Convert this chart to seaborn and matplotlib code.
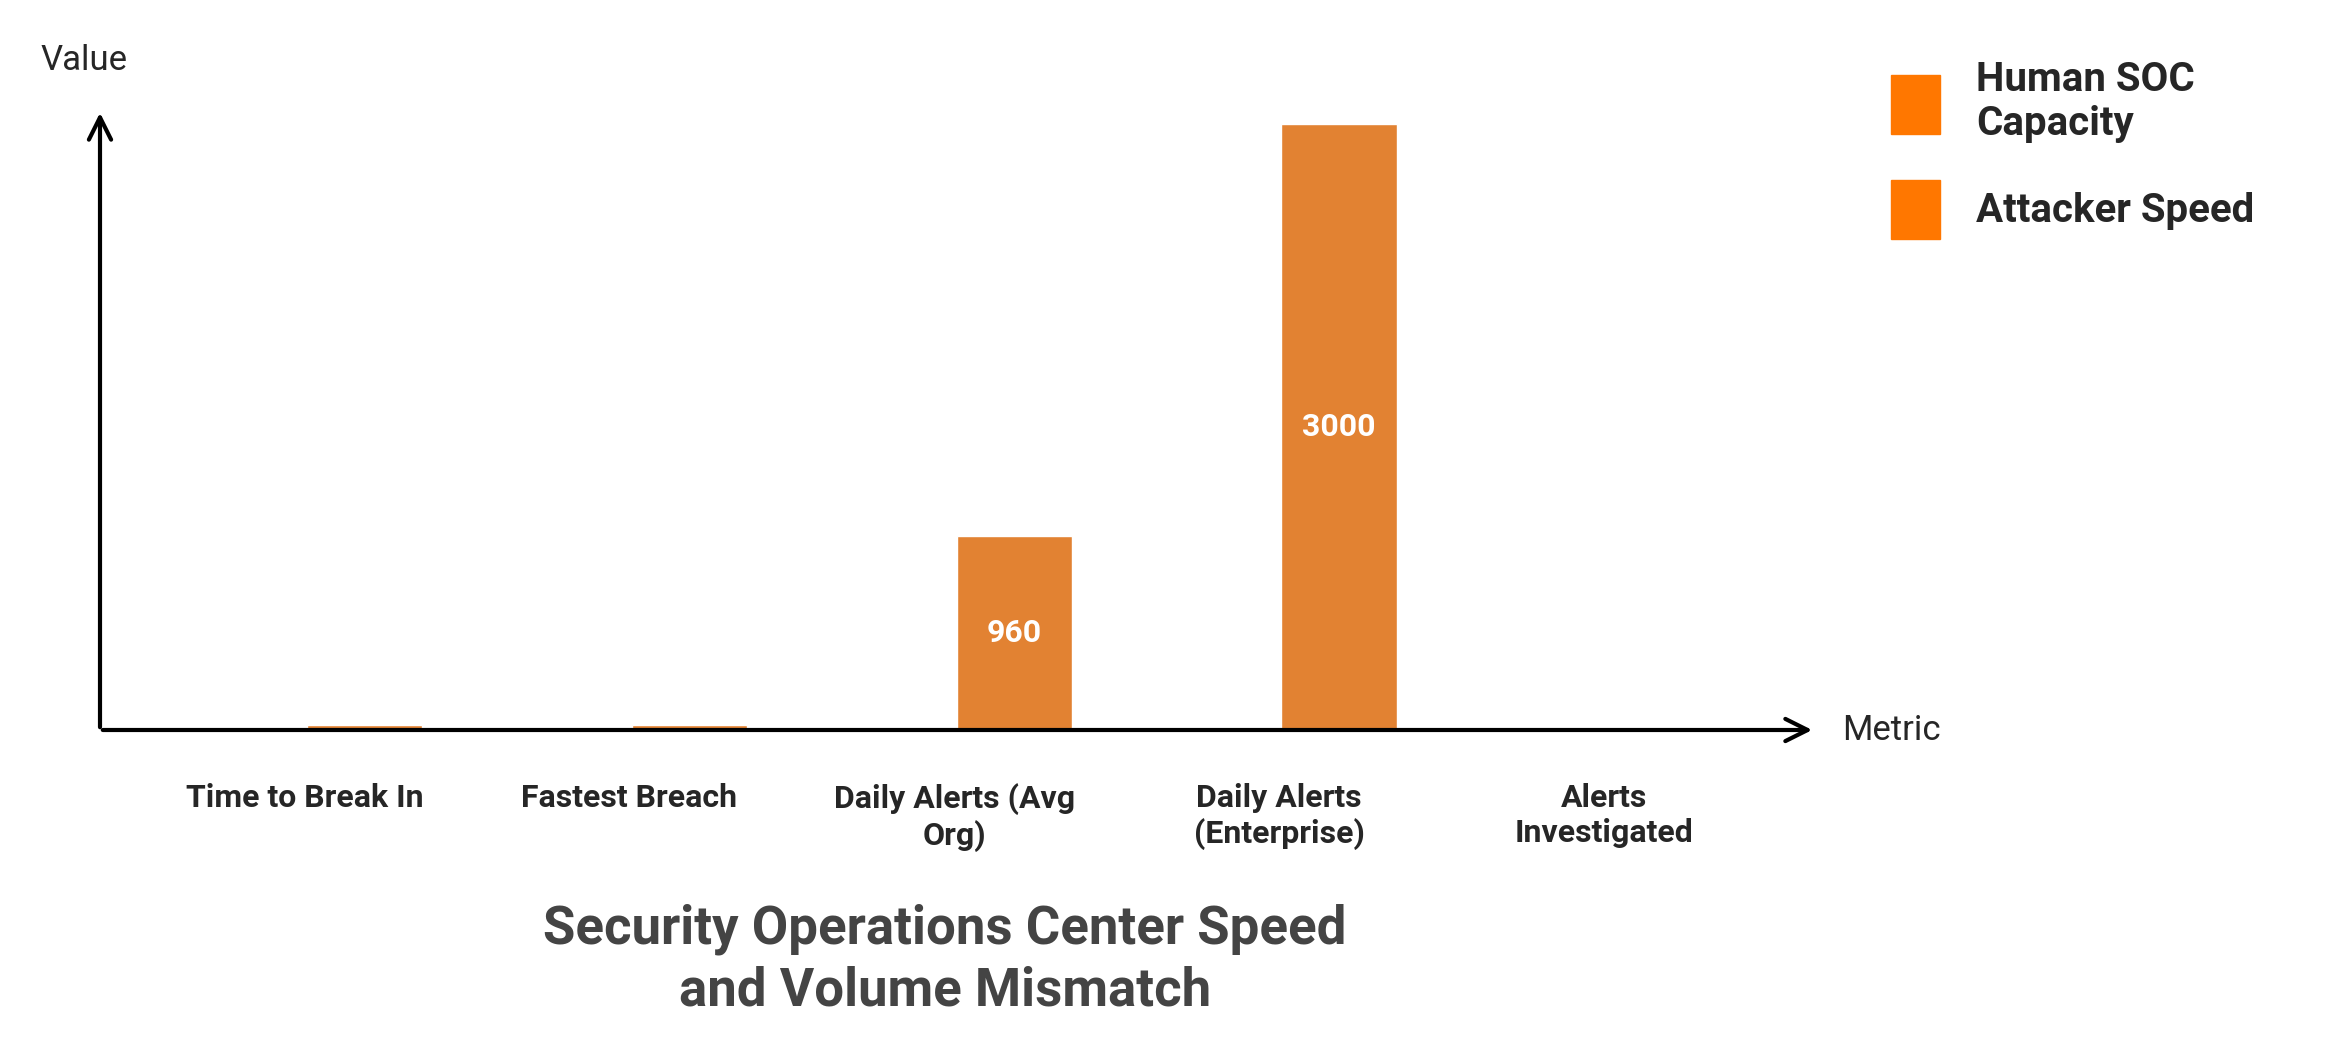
import matplotlib
matplotlib.use("Agg")
import matplotlib.pyplot as plt
import seaborn as sns
import pandas as pd
from matplotlib.patches import Patch

categories = ["Time to Break In", "Fastest Breach", "Daily Alerts (Avg\nOrg)",
              "Daily Alerts\n(Enterprise)", "Alerts\nInvestigated"]
human_soc = [10, 10, 10, 10, 10]
attacker = [24, 27, 960, 3000, 12]
series = ["Human SOC Capacity", "Attacker Speed"]

sns.set_theme(style="white")
plt.rcParams['font.family'] = ['Roboto', 'DejaVu Sans']

df = pd.DataFrame({
    "Metric": categories * 2,
    "Value": human_soc + attacker,
    "Series": [series[0]] * 5 + [series[1]] * 5,
})

fig = plt.figure(figsize=(23.52, 10.6), dpi=100)
ax = fig.add_axes([100/2352, 1-730/1060, 1715/2352, 620/1060])
sns.barplot(data=df, x="Metric", y="Value", hue="Series", ax=ax,
            palette=["#FCB77F", "#FF7F15"], width=0.74, gap=0.04, legend=False)
ax.set_xlim(-0.63, 4.65)
ax.set_ylim(0, 3070)
for s in ax.spines.values():
    s.set_visible(False)
ax.set_yticks([])
ax.tick_params(axis="x", length=0, pad=38)
for t in ax.get_xticklabels():
    t.set_fontsize(23); t.set_fontweight("bold"); t.set_va("top")
ax.set_xlabel(""); ax.set_ylabel("")

# value labels on large bars
cont = ax.containers[1]
for rect, v in zip(cont, attacker):
    if v > 500:
        ax.text(rect.get_x() + rect.get_width()/2, v/2, f"{v}", ha="center", va="center",
                color="white", fontsize=23, fontweight="bold")

arrow = dict(arrowstyle="->", lw=3, color="black", mutation_scale=40)
ax.annotate("", xy=(0, 1.0), xytext=(0, 0), xycoords="axes fraction", arrowprops=arrow, annotation_clip=False)
ax.annotate("", xy=(1.0, 0), xytext=(0, 0), xycoords="axes fraction", arrowprops=arrow, annotation_clip=False)

fig.text(40/2352, 1-60/1060, "Value", fontsize=25, va="center", ha="left")
fig.text(1842/2352, 1-730/1060, "Metric", fontsize=25, va="center", ha="left")

fig.text(945/2352, 1-960/1060, "Security Operations Center Speed\nand Volume Mismatch",
         fontsize=38, fontweight="bold", color="#444444", ha="center", va="center", linespacing=1.25)

handles = [Patch(color="#FF7700"), Patch(color="#FF7700")]
fig.legend(handles, ["Human SOC\nCapacity", "Attacker Speed"], loc="upper left",
           bbox_to_anchor=(1855/2352, 1-25/1060), frameon=False,
           prop={"size": 29, "weight": "bold"}, handlelength=1.2, handleheight=1.9,
           handletextpad=0.9, labelspacing=0.9)

fig.savefig("out.png", dpi=100)
